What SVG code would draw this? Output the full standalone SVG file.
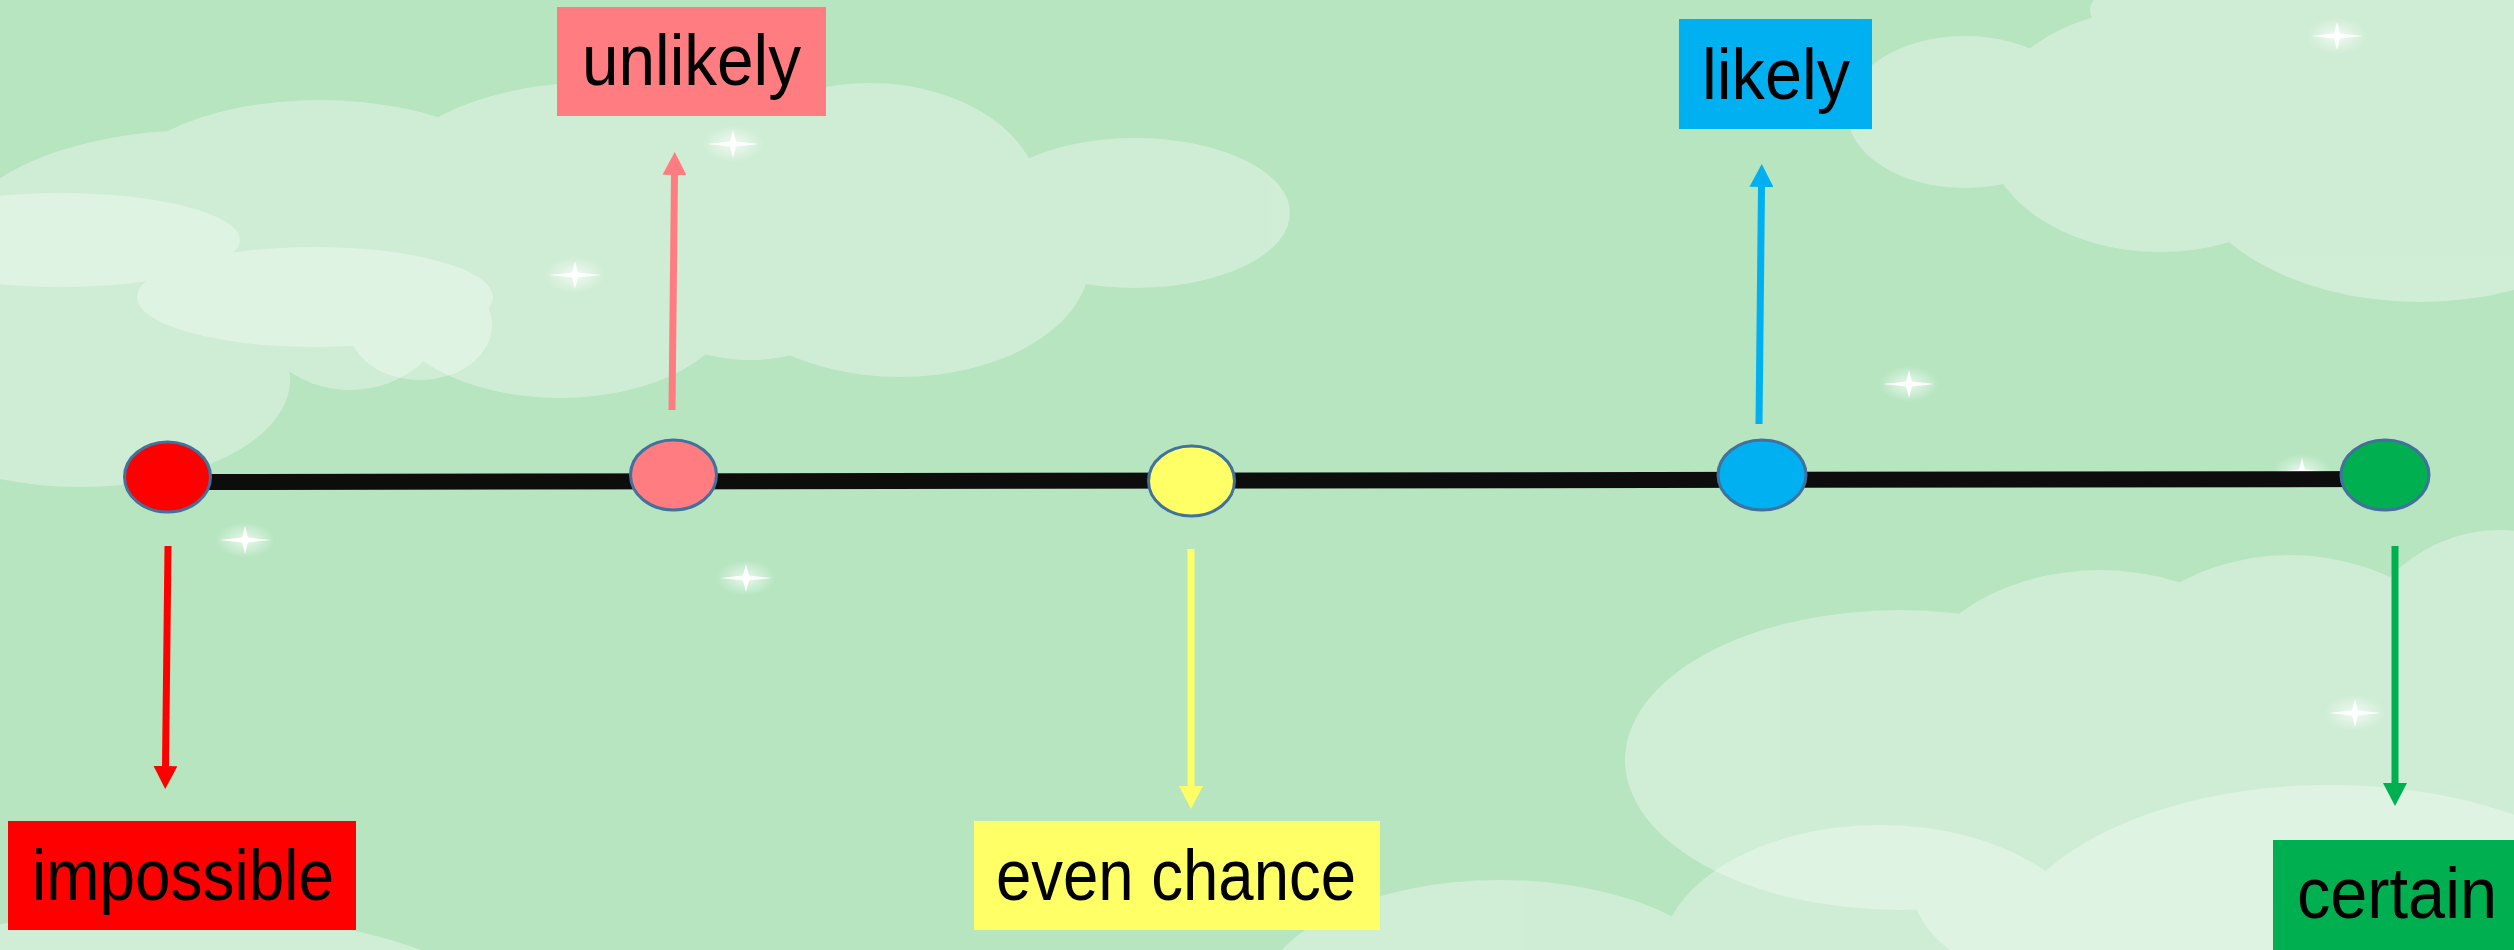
<svg xmlns="http://www.w3.org/2000/svg" width="2514" height="950" viewBox="0 0 2514 950">
<style>
.cloud{fill:#ffffff;opacity:0.34}
.dot{stroke:#41719c;stroke-width:3}
.lbl{font-family:"Liberation Sans",Arial,sans-serif;font-size:72px;fill:#000}
.arr{stroke-width:7;fill:none}
</style>
<defs>
<radialGradient id="glow" cx="0.5" cy="0.5" r="0.5">
<stop offset="0" stop-color="#ffffff" stop-opacity="0.7"/>
<stop offset="1" stop-color="#ffffff" stop-opacity="0"/>
</radialGradient>
<g id="spark">
<ellipse cx="0" cy="0" rx="30" ry="18" fill="url(#glow)"/>
<path d="M-26,0 L-3,-2.5 L0,-14 L3,-2.5 L26,0 L3,2.5 L0,14 L-3,2.5 Z" fill="#ffffff" opacity="0.95"/>
</g>
<marker id="hRed" markerUnits="userSpaceOnUse" viewBox="0 0 23 24" refX="0" refY="12" markerWidth="23" markerHeight="24" orient="auto"><path d="M0,0 L23,12 L0,24 Z" fill="#ff0000"/></marker>
<marker id="hPink" markerUnits="userSpaceOnUse" viewBox="0 0 23 24" refX="0" refY="12" markerWidth="23" markerHeight="24" orient="auto"><path d="M0,0 L23,12 L0,24 Z" fill="#ff7c80"/></marker>
<marker id="hYellow" markerUnits="userSpaceOnUse" viewBox="0 0 23 24" refX="0" refY="12" markerWidth="23" markerHeight="24" orient="auto"><path d="M0,0 L23,12 L0,24 Z" fill="#ffff66"/></marker>
<marker id="hBlue" markerUnits="userSpaceOnUse" viewBox="0 0 23 24" refX="0" refY="12" markerWidth="23" markerHeight="24" orient="auto"><path d="M0,0 L23,12 L0,24 Z" fill="#00b0f0"/></marker>
<marker id="hGreen" markerUnits="userSpaceOnUse" viewBox="0 0 23 24" refX="0" refY="12" markerWidth="23" markerHeight="24" orient="auto"><path d="M0,0 L23,12 L0,24 Z" fill="#00b050"/></marker>
</defs>

<g id="background">
<rect x="0" y="0" width="2514" height="950" fill="#b6e5c0"/>
<g id="cloud-top-left" class="cloud">
<ellipse cx="200" cy="250" rx="250" ry="120"/>
<ellipse cx="320" cy="200" rx="210" ry="100"/>
<ellipse cx="600" cy="190" rx="220" ry="108"/>
<ellipse cx="870" cy="200" rx="170" ry="117"/>
<ellipse cx="1135" cy="213" rx="155" ry="75"/>
<ellipse cx="900" cy="260" rx="190" ry="117"/>
<ellipse cx="750" cy="295" rx="110" ry="65"/>
<ellipse cx="560" cy="300" rx="175" ry="98"/>
<ellipse cx="350" cy="300" rx="100" ry="90"/>
<ellipse cx="80" cy="380" rx="210" ry="107"/>
<rect x="300" y="180" width="700" height="120"/>
</g>
<g id="cloud-top-left-inner" class="cloud">
<ellipse cx="60" cy="240" rx="180" ry="47"/>
<ellipse cx="315" cy="297" rx="178" ry="50"/>
<ellipse cx="420" cy="325" rx="72" ry="55"/>
</g>
<g id="cloud-top-right" class="cloud">
<ellipse cx="1965" cy="112" rx="118" ry="76"/>
<ellipse cx="2160" cy="130" rx="175" ry="122"/>
<ellipse cx="2420" cy="150" rx="240" ry="152"/>
<ellipse cx="2350" cy="10" rx="260" ry="60"/>
</g>
<g id="cloud-bottom-right" class="cloud">
<ellipse cx="1900" cy="760" rx="275" ry="150"/>
<ellipse cx="2100" cy="720" rx="200" ry="150"/>
<ellipse cx="2290" cy="720" rx="200" ry="165"/>
<ellipse cx="2500" cy="700" rx="160" ry="170"/>
<ellipse cx="2160" cy="880" rx="250" ry="130"/>
<rect x="2100" y="700" width="414" height="250"/>
</g>
<g id="cloud-bottom" class="cloud">
<ellipse cx="1500" cy="1000" rx="240" ry="120"/>
<ellipse cx="1880" cy="960" rx="220" ry="135"/>
<ellipse cx="2330" cy="960" rx="330" ry="175"/>
</g>
<g id="cloud-bottom-left" class="cloud">
<ellipse cx="160" cy="1010" rx="330" ry="98"/>
</g>
<g id="sparkles">
<use href="#spark" x="733" y="144"/>
<use href="#spark" x="575" y="275"/>
<use href="#spark" x="245" y="540"/>
<use href="#spark" x="746" y="578"/>
<use href="#spark" x="1909" y="384"/>
<use href="#spark" x="2337" y="36"/>
<use href="#spark" x="2355" y="713"/>
<use href="#spark" x="2302" y="472"/>
</g>
</g>

<g id="connectors">
<line id="axis" x1="167" y1="482" x2="2385" y2="479" stroke="#0d0d0d" stroke-width="16"/>
<line class="arr" x1="168" y1="546" x2="165.5" y2="766" stroke="#ff0000" marker-end="url(#hRed)"/>
<line class="arr" x1="672" y1="410" x2="674.5" y2="175" stroke="#ff7c80" marker-end="url(#hPink)"/>
<line class="arr" x1="1191" y1="549" x2="1191" y2="786" stroke="#ffff66" stroke-width="6" marker-end="url(#hYellow)"/>
<line class="arr" x1="1759" y1="424" x2="1761.5" y2="187" stroke="#00b0f0" marker-end="url(#hBlue)"/>
<line class="arr" x1="2395" y1="546" x2="2395" y2="783" stroke="#00b050" marker-end="url(#hGreen)"/>
</g>

<g id="point-impossible"><ellipse class="dot" cx="167.5" cy="477" rx="43" ry="35" fill="#ff0000"/></g>
<g id="point-unlikely"><ellipse class="dot" cx="673.5" cy="475" rx="43" ry="35" fill="#ff7c80"/></g>
<g id="point-even"><ellipse class="dot" cx="1191.5" cy="481" rx="43" ry="35" fill="#ffff66"/></g>
<g id="point-likely"><ellipse class="dot" cx="1762" cy="475" rx="44" ry="35" fill="#00b0f0"/></g>
<g id="point-certain"><ellipse class="dot" cx="2385" cy="475" rx="44" ry="35" fill="#00b050"/></g>

<g id="label-impossible">
<rect x="8" y="821" width="348" height="109" fill="#ff0000"/>
<text class="lbl" x="32" y="900" textLength="302" lengthAdjust="spacingAndGlyphs">impossible</text>
</g>
<g id="label-unlikely">
<rect x="557" y="7" width="269" height="109" fill="#ff7c80"/>
<text class="lbl" x="582" y="85" textLength="219" lengthAdjust="spacingAndGlyphs">unlikely</text>
</g>
<g id="label-even-chance">
<rect x="974" y="821" width="406" height="109" fill="#ffff66"/>
<text class="lbl" x="996" y="900" textLength="360" lengthAdjust="spacingAndGlyphs">even chance</text>
</g>
<g id="label-likely">
<rect x="1679" y="19" width="193" height="110" fill="#00b0f0"/>
<text class="lbl" x="1702" y="99" textLength="148" lengthAdjust="spacingAndGlyphs">likely</text>
</g>
<g id="label-certain">
<rect x="2273" y="840" width="241" height="110" fill="#00b050"/>
<text class="lbl" x="2297" y="918" textLength="200" lengthAdjust="spacingAndGlyphs">certain</text>
</g>
</svg>
